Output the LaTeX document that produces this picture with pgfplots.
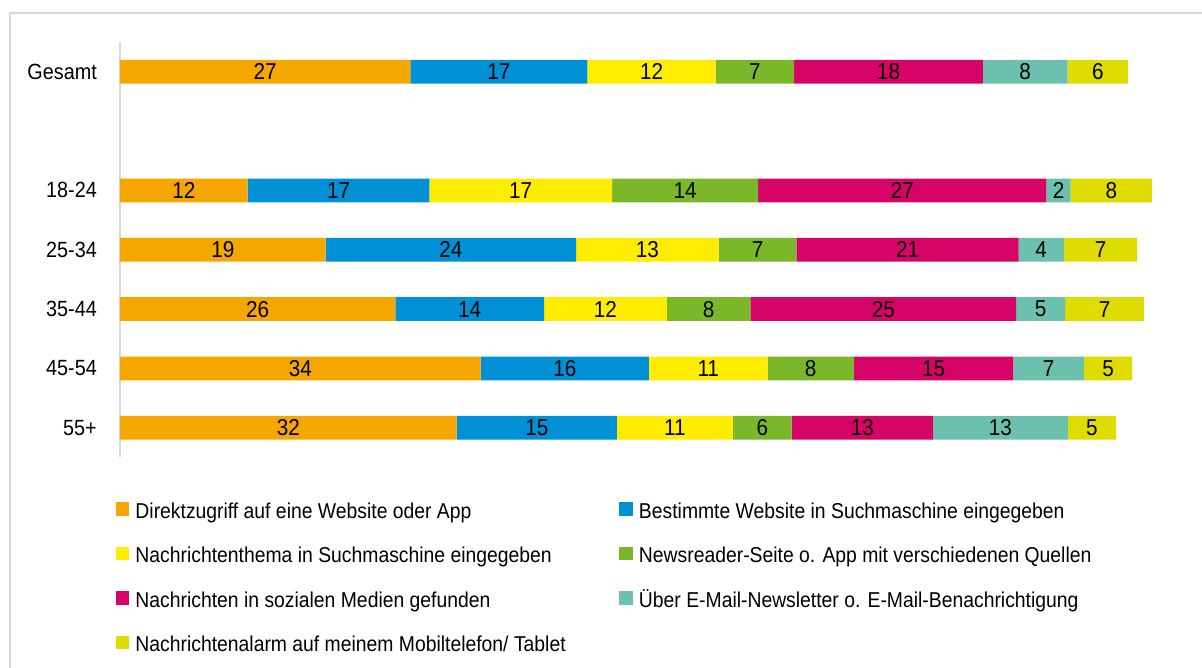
\documentclass[border=0pt]{standalone}
\usepackage{pgfplots}
\pgfplotsset{compat=1.18}
\usepackage{pgfplotstable}
\usepackage{fontspec}
\setmainfont{Liberation Sans}[FakeStretch=0.9]
\definecolor{c1}{HTML}{F5A700}
\definecolor{c2}{HTML}{0090D6}
\definecolor{c3}{HTML}{FFEC00}
\definecolor{c4}{HTML}{7AB829}
\definecolor{c5}{HTML}{D60467}
\definecolor{c6}{HTML}{6CC1AE}
\definecolor{c7}{HTML}{DEDC00}
\definecolor{frame}{HTML}{D9D9D9}
\newcommand{\lt}[1]{\makebox[484pt][l]{\rule[-5pt]{0pt}{25pt}#1}}

\pgfplotstableread{
pos d1 d2 d3 d4 d5 d6 d7
0 27.4 16.7 12.1 7.4 17.8 8.0 5.7
2 12.05 17.14 17.23 13.79 27.19 2.29 7.65
3 19.39 23.63 13.45 7.35 20.95 4.28 6.91
4 25.97 14.04 11.58 7.89 25.06 4.62 7.45
5 34.02 15.88 11.19 8.15 15.03 6.67 4.55
6 31.76 15.12 10.93 5.56 13.34 12.71 4.55
}\data

\begin{document}
\begin{tikzpicture}
\begin{axis}[
  scale only axis, width=1060pt, height=415.5pt,
  xbar stacked, bar width=0.4,
  xmin=0, xmax=100, ymin=-0.5, ymax=6.5, y dir=reverse,
  enlargelimits=false,
  axis x line=none, axis y line*=left,
  y axis line style={draw=frame, line width=1.3pt},
  ytick={0,2,3,4,5,6},
  yticklabels={Gesamt,18-24,25-34,35-44,45-54,55+},
  ytick style={draw=none},
  yticklabel style={font=\fontsize{22}{26}\selectfont, inner sep=0pt, xshift=-23pt, anchor=east},
  /pgf/number format/assume math mode=true,
  visualization depends on={rawx \as \rawx},
  nodes near coords={\pgfmathprintnumber[fixed,precision=0]{\rawx}},
  every node near coord/.append style={font=\fontsize{23}{27}\selectfont, anchor=center, text=black},
  legend columns=2,
  legend cell align=left,
  legend style={draw=none, fill=none, inner sep=0pt, outer sep=0pt,
    at={(axis description cs:0,0)}, anchor=north west, xshift=-4pt, yshift=-40.7pt,
    font=\fontsize{21.5}{26}\selectfont, row sep=23pt, column sep=0pt,
    nodes={inner sep=0pt},
    /tikz/every odd column/.append style={column sep=6pt}},
  every axis plot post/.append style={legend image code/.code={\path[#1, draw=none] (0pt,-6.75pt) rectangle (13.5pt,6.75pt);}},
]
\addplot[fill=c1, draw=none] table[x=d1, y=pos] {\data};
\addplot[fill=c2, draw=none] table[x=d2, y=pos] {\data};
\addplot[fill=c3, draw=none] table[x=d3, y=pos] {\data};
\addplot[fill=c4, draw=none] table[x=d4, y=pos] {\data};
\addplot[fill=c5, draw=none] table[x=d5, y=pos] {\data};
\addplot[fill=c6, draw=none] table[x=d6, y=pos] {\data};
\addplot[fill=c7, draw=none] table[x=d7, y=pos] {\data};
\legend{\lt{Direktzugriff auf eine Website oder App},
  \lt{Bestimmte Website in Suchmaschine eingegeben},
  \lt{Nachrichtenthema in Suchmaschine eingegeben},
  \lt{Newsreader-Seite o. App mit verschiedenen Quellen},
  \lt{Nachrichten in sozialen Medien gefunden},
  \lt{Über E-Mail-Newsletter o. E-Mail-Benachrichtigung},
  \lt{Nachrichtenalarm auf meinem Mobiltelefon/ Tablet}}
\end{axis}
\draw[draw=frame, line width=1.3pt]
  ([shift={(-110pt,-626pt)}]current axis.north west) --
  ([shift={(-110pt,29pt)}]current axis.north west) --
  ([shift={(1082pt,29pt)}]current axis.north west);
\pgfresetboundingbox
\path[use as bounding box] ([shift={(-120pt,-626pt)}]current axis.north west) rectangle ([shift={(1082pt,42pt)}]current axis.north west);
\end{tikzpicture}
\end{document}
